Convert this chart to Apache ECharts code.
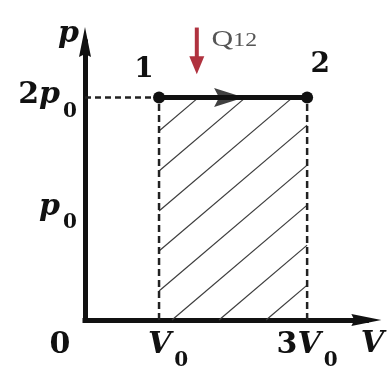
<!DOCTYPE html>
<html>
<head>
<meta charset="utf-8">
<script src="https://cdn.jsdelivr.net/npm/echarts@6/dist/echarts.min.js"></script>
<style>
  html, body { margin: 0; padding: 0; background: #fff; }
  #chart { width: 387px; height: 371px; }
</style>
</head>
<body>
<div id="chart"></div>
<script>
// Isobaric expansion 1 → 2 on a p–V diagram; the hatched area is the work done.
const stateNames = ['1', '2'];
const stateV = [1, 3];          // volume, in units of V0
const stateP = [2, 2];          // pressure, in units of p0
const xTickValues = [0, 1, 3];
const xTickLabels = ['0', 'V0', '3V0'];
const yTickValues = [1, 2];
const yTickLabels = ['p0', '2p0'];
const xAxisName = 'V';
const yAxisName = 'p';
const heatText = 'Q12';

const SERIF = '"DejaVu Serif", "Liberation Serif", serif';
const INK = '#111';

// "3V0" -> number, italic letter, subscript; lead = extra left padding (shifts a centred label right)
function toRich(label, lead) {
  if (label === '0') return '{o|0}';
  const m = label.match(/^(\d*)([A-Za-z])(\d*)$/);
  if (!m) return label;
  const pad = lead ? '{g|}' : '';
  return pad + (m[1] ? '{n|' + m[1] + '}' : '') + '{i|' + m[2] + '}' + (m[3] ? '{s|' + m[3] + '}' : '');
}
const richStyles = {
  g: { width: 18, lineHeight: 34 },
  n: { fontFamily: SERIF, fontSize: 30, fontWeight: 'bold', color: INK, lineHeight: 34, verticalAlign: 'top' },
  i: { fontFamily: SERIF, fontSize: 30, fontWeight: 'bold', fontStyle: 'italic', color: INK, lineHeight: 34, verticalAlign: 'top' },
  s: { fontFamily: SERIF, fontSize: 20, fontWeight: 'bold', color: INK, lineHeight: 20, padding: [21, 0, 0, 3], verticalAlign: 'top' },
  o: { fontFamily: SERIF, fontSize: 30, fontWeight: 'bold', color: INK, lineHeight: 34, verticalAlign: 'top', padding: [0, 50, 0, 0] }
};

const HATCH_STEP = 40;     // vertical distance between hatch lines, px
const HATCH_SLOPE = 0.85;  // rise per px of run
const HATCH_PHASE = 29;

const chart = echarts.init(document.getElementById('chart'), null, { renderer: 'canvas' });

const statePoints = stateV.map((v, i) => [v, stateP[i]]);
const labelOffsets = [[-15, 0], [13, -5]];
const axisArrow = 'path://M6,0 L12,30 L6,27 L0,30 Z';

const option = {
  backgroundColor: '#fff',
  animation: false,
  grid: { left: 85, right: 20, top: 42, bottom: 49.5 },
  xAxis: {
    type: 'value', min: 0, max: 3.8,
    splitLine: { show: false },
    axisTick: { show: false },
    axisLine: {
      show: true, onZero: false,
      symbol: ['none', axisArrow], symbolSize: [14, 30],
      lineStyle: { color: INK, width: 5, cap: 'square' }
    },
    axisLabel: {
      customValues: xTickValues,
      margin: 10,
      formatter: v => {
        const lab = xTickLabels[xTickValues.indexOf(v)];
        return toRich(lab, lab === 'V0');
      },
      rich: richStyles
    },
    name: '{i|' + xAxisName + '}',
    nameLocation: 'end',
    nameGap: 6,
    nameTextStyle: { align: 'center', verticalAlign: 'top', padding: [9, 0, 0, 0], rich: richStyles }
  },
  yAxis: {
    type: 'value', min: 0, max: 2.5,
    splitLine: { show: false },
    axisTick: { show: false },
    axisLine: {
      show: true, onZero: false,
      symbol: ['none', axisArrow], symbolSize: [14, 30],
      lineStyle: { color: INK, width: 5, cap: 'square' }
    },
    axisLabel: {
      customValues: yTickValues,
      margin: 8,
      formatter: v => toRich(yTickLabels[yTickValues.indexOf(v)]),
      rich: richStyles
    },
    name: '{i|' + yAxisName + '}',
    nameLocation: 'end',
    nameGap: 6,
    nameTextStyle: { align: 'right', verticalAlign: 'middle', padding: [0, 6, 0, 0], rich: richStyles }
  },
  series: [
    {
      // hatching under the process line
      type: 'custom',
      coordinateSystem: 'cartesian2d',
      silent: true,
      z: 1,
      data: [[stateV[0], stateV[1], stateP[0]]],
      encode: { x: [0, 1], y: 2 },
      renderItem(params, api) {
        const tl = api.coord([api.value(0), api.value(2)]);
        const br = api.coord([api.value(1), 0]);
        const x0 = tl[0], y0 = tl[1], x1 = br[0], y1 = br[1];
        const w = x1 - x0;
        let c = y1 - HATCH_PHASE;
        while (c - HATCH_STEP > y0) c -= HATCH_STEP;
        const children = [];
        for (; c < y1 + HATCH_SLOPE * w; c += HATCH_STEP) {
          const xa = Math.max(x0, x0 + (c - y1) / HATCH_SLOPE);
          const xb = Math.min(x1, x0 + (c - y0) / HATCH_SLOPE);
          if (xb <= xa) continue;
          children.push({
            type: 'line',
            shape: { x1: xa, y1: c - HATCH_SLOPE * (xa - x0), x2: xb, y2: c - HATCH_SLOPE * (xb - x0) },
            style: { stroke: '#3c3c3c', lineWidth: 1.2 }
          });
        }
        return { type: 'group', children };
      }
    },
    {
      // pressure guide from the p axis to state 1
      type: 'line',
      data: [[0, stateP[0]], statePoints[0]],
      symbol: 'none', z: 2,
      lineStyle: { color: '#222', width: 2.5, type: [6, 4] }
    },
    ...statePoints.map(pt => ({
      // volume guides down to the V axis
      type: 'line',
      data: [[pt[0], 0], pt],
      symbol: 'none', z: 2,
      lineStyle: { color: '#222', width: 2.5, type: [7, 4] }
    })),
    {
      // process 1 → 2
      type: 'line',
      data: statePoints.map((pt, i) => ({
        value: pt,
        name: stateNames[i],
        label: { offset: labelOffsets[i] }
      })),
      z: 5,
      symbol: 'circle', symbolSize: 12,
      itemStyle: { color: INK },
      lineStyle: { color: INK, width: 5 },
      label: {
        show: true, position: 'top', distance: 8,
        formatter: p => p.name,
        fontFamily: SERIF, fontSize: 28, fontWeight: 'bold', color: INK
      }
    },
    {
      // direction of the process
      type: 'scatter',
      data: [[(stateV[0] + stateV[1]) / 2, stateP[0]]],
      z: 6,
      symbol: 'path://M0,0 L30,9 L0,18 L5,9 Z',
      symbolSize: [30, 19],
      symbolOffset: [-4, 0],
      itemStyle: { color: INK }
    }
  ]
};

chart.setOption(option);

// heat arrow with its label, anchored to the axes
const aTop = chart.convertToPixel({ gridIndex: 0 }, [1.51, 2.63]);
const aTip = chart.convertToPixel({ gridIndex: 0 }, [1.51, 2.21]);
const qPos = chart.convertToPixel({ gridIndex: 0 }, [1.71, 2.63]);
const red = '#b0323f';
chart.setOption({
  graphic: [
    {
      type: 'line',
      shape: { x1: aTop[0], y1: aTop[1], x2: aTip[0], y2: aTip[1] - 14 },
      style: { stroke: red, lineWidth: 4 }
    },
    {
      type: 'polygon',
      shape: { points: [[aTip[0] - 7.5, aTip[1] - 18], [aTip[0] + 7.5, aTip[1] - 18], [aTip[0], aTip[1]]] },
      style: { fill: red }
    },
    {
      type: 'text',
      x: qPos[0], y: qPos[1],
      scaleX: 1.25,
      style: {
        text: '{q|' + heatText.charAt(0) + '}{d|' + heatText.slice(1) + '}',
        rich: {
          q: { fontFamily: '"Liberation Serif", serif', fontSize: 24, fill: '#555', lineHeight: 24, verticalAlign: 'bottom' },
          d: { fontFamily: '"Liberation Serif", serif', fontSize: 19, fill: '#555', lineHeight: 19, verticalAlign: 'bottom', padding: [0, 0, 1, 0] }
        }
      }
    }
  ]
});
</script>
</body>
</html>
